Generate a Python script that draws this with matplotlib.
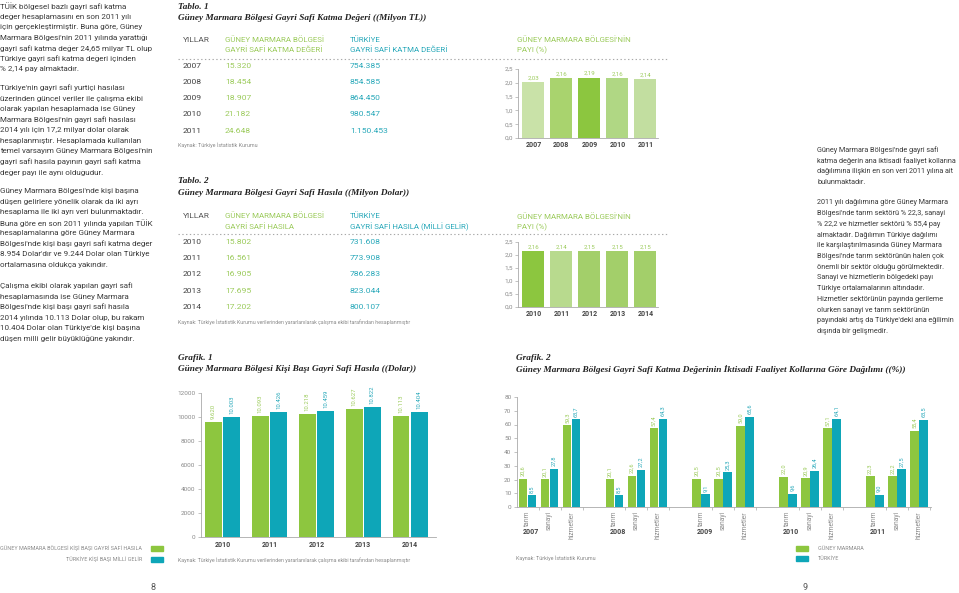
import numpy as np
import matplotlib
matplotlib.use("Agg")
import matplotlib.pyplot as plt
from matplotlib.lines import Line2D
from matplotlib.patches import Rectangle

# ---------------- data ----------------
t1_years = ["2007", "2008", "2009", "2010", "2011"]
t1_gm = ["15.320", "18.454", "18.907", "21.182", "24.648"]
t1_tr = ["754.385", "854.585", "864.450", "980.547", "1.150.453"]
t1_share = [2.03, 2.16, 2.19, 2.16, 2.14]

t2_years = ["2010", "2011", "2012", "2013", "2014"]
t2_gm = ["15.802", "16.561", "16.905", "17.695", "17.202"]
t2_tr = ["731.608", "773.908", "786.283", "823.044", "800.107"]
t2_share = [2.16, 2.14, 2.15, 2.15, 2.15]

g1_years = ["2010", "2011", "2012", "2013", "2014"]
g1_gm = [9620, 10093, 10218, 10627, 10113]
g1_tr = [10003, 10426, 10459, 10822, 10404]

g2_years = ["2007", "2008", "2009", "2010", "2011"]
g2_sectors = ["tarım", "sanayi", "hizmetler"]
g2_gm = [[20.6, 20.1, 59.3], [20.1, 22.6, 57.4], [20.5, 20.5, 59.0],
         [22.0, 20.9, 57.1], [22.3, 22.2, 55.4]]
g2_tr = [[8.5, 27.8, 63.7], [8.5, 27.2, 64.3], [9.1, 25.3, 65.6],
         [9.6, 26.4, 64.1], [9.0, 27.5, 63.5]]

# ---------------- style ----------------
W, H = 959, 593
GREEN = "#8dc63f"
GREEN_T = "#9ccb5c"
TEAL = "#0ea6b8"
TEAL_T = "#2aa9ba"
DARK = "#3a3a3a"
GRAY = "#8a8a8a"
SANS = ["Roboto", "DejaVu Sans"]
SERIF = ["Liberation Serif", "DejaVu Serif"]

plt.rcParams["font.family"] = SANS

fig = plt.figure(figsize=(W / 100, H / 100), dpi=100)
fig.patch.set_facecolor("white")


def txt(x, y, s, size=6.3, color=DARK, ha="left", va="center", **kw):
    return fig.text(x / W, 1 - y / H, s, fontsize=size, color=color, ha=ha, va=va, **kw)


def add_ax(x0, y0, x1, y1):
    return fig.add_axes([x0 / W, 1 - y1 / H, (x1 - x0) / W, (y1 - y0) / H])


def dotted(x0, x1, y):
    fig.add_artist(Line2D([x0 / W, x1 / W], [1 - y / H, 1 - y / H],
                          linestyle=(0, (1.2, 2.2)), color="#a8a8a8", lw=0.8))


def ttl(x, y, s):
    txt(x, y, s, size=6.65, color="#222", family=SERIF, weight="bold", style="italic")


# ---------------- left text column ----------------
left_paras = [
    ["TÜİK bölgesel bazlı gayri safi katma",
     "değer hesaplamasını en son 2011 yılı",
     "için gerçekleştirmiştir. Buna göre, Güney",
     "Marmara Bölgesi'nin 2011 yılında yarattığı",
     "gayri safi katma değer 24,65 milyar TL olup",
     "Türkiye gayri safi katma değeri içinden",
     "% 2,14 pay almaktadır."],
    ["Türkiye'nin gayri safi yurtiçi hasılası",
     "üzerinden güncel veriler ile çalışma ekibi",
     "olarak yapılan hesaplamada ise Güney",
     "Marmara Bölgesi'nin gayri safi hasılası",
     "2014 yılı için 17,2 milyar dolar olarak",
     "hesaplanmıştır. Hesaplamada kullanılan",
     "temel varsayım Güney Marmara Bölgesi'nin",
     "gayri safi hasıla payının gayri safi katma",
     "değer payı ile aynı olduğudur."],
    ["Güney Marmara Bölgesi'nde kişi başına",
     "düşen gelirlere yönelik olarak da iki ayrı",
     "hesaplama ile iki ayrı veri bulunmaktadır.",
     "Buna göre en son 2011 yılında yapılan TÜİK",
     "hesaplamalarına göre Güney Marmara",
     "Bölgesi'nde kişi başı gayri safi katma değer",
     "8.954 Dolar'dır ve 9.244 Dolar olan Türkiye",
     "ortalamasına oldukça yakındır."],
    ["Çalışma ekibi olarak yapılan gayri safi",
     "hesaplamasında ise Güney Marmara",
     "Bölgesi'nde kişi başı gayri safi hasıla",
     "2014 yılında 10.113 Dolar olup, bu rakam",
     "10.404 Dolar olan Türkiye'de kişi başına",
     "düşen milli gelir büyüklüğüne yakındır."],
]
starts = [6, 88, 191, 286]
for st, para in zip(starts, left_paras):
    for i, line in enumerate(para):
        txt(0, st + i * 10.55, line, size=5.8)

right_paras = [
    ["Güney Marmara Bölgesi'nde gayri safi",
     "katma değerin ana iktisadi faaliyet kollarına",
     "dağılımına ilişkin en son veri 2011 yılına ait",
     "bulunmaktadır."],
    ["2011 yılı dağılımına göre Güney Marmara",
     "Bölgesi'nde tarım sektörü % 22,3, sanayi",
     "% 22,2 ve hizmetler sektörü % 55,4 pay",
     "almaktadır. Dağılımın Türkiye dağılımı",
     "ile karşılaştırılmasında Güney Marmara",
     "Bölgesi'nde tarım sektörünün halen çok",
     "önemli bir sektör olduğu görülmektedir.",
     "Sanayi ve hizmetlerin bölgedeki payı",
     "Türkiye ortalamalarının altındadır.",
     "Hizmetler sektörünün payında gerileme",
     "olurken sanayi ve tarım sektörünün",
     "payındaki artış da Türkiye'deki ana eğilimin",
     "dışında bir gelişmedir."],
]
for st, para in zip([150, 203], right_paras):
    for i, line in enumerate(para):
        txt(817, st + i * 10.7, line, size=5.25)

# ---------------- Tablo 1 ----------------
HS = 5.7
VS = 6.1
ttl(178, 7, "Tablo. 1")
ttl(178, 18, "Güney Marmara Bölgesi Gayri Safi Katma Değeri ((Milyon TL))")
txt(183, 40, "YILLAR", size=HS + 0.3, color="#555")
txt(225, 40, "GÜNEY MARMARA BÖLGESİ", size=HS, color=GREEN_T)
txt(225, 50, "GAYRİ SAFİ KATMA DEĞERİ", size=HS, color=GREEN_T)
txt(350, 40, "TÜRKİYE", size=HS, color=TEAL_T)
txt(350, 50, "GAYRİ SAFİ KATMA DEĞERİ", size=HS, color=TEAL_T)
dotted(178, 668, 59)
for i, (y, a, b) in enumerate(zip(t1_years, t1_gm, t1_tr)):
    yy = 65.5 + i * 16.3
    txt(183, yy, y, size=VS, color="#444")
    txt(225, yy, a, size=VS, color=GREEN_T)
    txt(350, yy, b, size=VS, color=TEAL_T)
txt(178, 145, "Kaynak: Türkiye İstatistik Kurumu", size=3.9, color=GRAY)

# ---------------- Tablo 2 ----------------
ttl(178, 181, "Tablo. 2")
ttl(178, 193, "Güney Marmara Bölgesi Gayri Safi Hasıla ((Milyon Dolar))")
txt(183, 216, "YILLAR", size=HS + 0.3, color="#555")
txt(225, 216, "GÜNEY MARMARA BÖLGESİ", size=HS, color=GREEN_T)
txt(225, 227, "GAYRİ SAFİ HASILA", size=HS, color=GREEN_T)
txt(350, 216, "TÜRKİYE", size=HS, color=TEAL_T)
txt(350, 227, "GAYRİ SAFİ HASILA (MİLLİ GELİR)", size=HS, color=TEAL_T)
dotted(178, 668, 234)
for i, (y, a, b) in enumerate(zip(t2_years, t2_gm, t2_tr)):
    yy = 242 + i * 16.2
    txt(183, yy, y, size=VS, color="#444")
    txt(225, yy, a, size=VS, color=GREEN_T)
    txt(350, yy, b, size=VS, color=TEAL_T)
txt(178, 322, "Kaynak: Türkiye İstatistik Kurumu verilerinden yararlanılarak çalışma ekibi tarafından hesaplanmıştır",
    size=3.8, color=GRAY)


# ---------------- share charts ----------------
def share_chart(y_head, y_top, y_bot, years, vals, colors):
    txt(517, y_head, "GÜNEY MARMARA BÖLGESİ'NİN", size=HS, color=GREEN_T)
    txt(517, y_head + 10.5, "PAYI (%)", size=HS, color=GREEN_T)
    ax = add_ax(518, y_top, 658, y_bot)
    x = np.arange(len(years))
    ax.bar(x, vals, width=0.78, color=colors)
    for xi, v in zip(x, vals):
        ax.text(xi, v + 0.06, f"{v:.2f}".replace(".", ","), ha="center", va="bottom",
                fontsize=4.4, color=GREEN_T)
    ax.set_xlim(-0.55, 4.45)
    ax.set_ylim(0, 2.5)
    ax.set_yticks(np.arange(0, 2.51, 0.5))
    ax.set_yticklabels([f"{t:.1f}".replace(".", ",") for t in np.arange(0, 2.51, 0.5)])
    ax.set_xticks(x)
    ax.set_xticklabels(years, fontweight="bold")
    for s in ["top", "right"]:
        ax.spines[s].set_visible(False)
    for s in ["left", "bottom"]:
        ax.spines[s].set_color("#aaa")
        ax.spines[s].set_linewidth(0.6)
    ax.tick_params(axis="y", length=2, width=0.5, color="#aaa", labelsize=4.6,
                   labelcolor=GRAY, pad=1.5)
    ax.tick_params(axis="x", length=0, labelsize=5.0, labelcolor="#444", pad=2)
    ax.set_facecolor("none")
    return ax


share_chart(40, 69, 138, t1_years, t1_share,
            ["#c9e2a8", "#a9d36e", "#8cc63f", "#b0d784", "#c2dea0"])
share_chart(217, 242, 307, t2_years, t2_share,
            ["#8cc63f", "#b8da8e", "#a3cf6a", "#a3cf6a", "#a3cf6a"])

# ---------------- Grafik 1 ----------------
ttl(178, 358, "Grafik. 1")
ttl(178, 369, "Güney Marmara Bölgesi Kişi Başı Gayri Safi Hasıla ((Dolar))")
ax1 = add_ax(201, 393, 436, 537)
x = np.arange(len(g1_years))
bw = 0.36
off = 0.195
ax1.bar(x - off, g1_gm, width=bw, color=GREEN)
ax1.bar(x + off, g1_tr, width=bw, color=TEAL)
fmt = lambda v: f"{v:,}".replace(",", ".")
for xi, a, b in zip(x, g1_gm, g1_tr):
    ax1.text(xi - off, a + 250, fmt(a), rotation=90, ha="center", va="bottom",
             fontsize=4.3, color=GREEN_T)
    ax1.text(xi + off, b + 250, fmt(b), rotation=90, ha="center", va="bottom",
             fontsize=4.3, color=TEAL_T)
ax1.set_xlim(-0.46, 4.55)
ax1.set_ylim(0, 12000)
ax1.set_yticks(np.arange(0, 12001, 2000))
ax1.set_xticks(x)
ax1.set_xticklabels(g1_years, fontweight="bold")
for s in ["top", "right"]:
    ax1.spines[s].set_visible(False)
for s in ["left", "bottom"]:
    ax1.spines[s].set_color("#aaa")
    ax1.spines[s].set_linewidth(0.6)
ax1.tick_params(axis="y", length=2, width=0.5, color="#aaa", labelsize=4.6,
                labelcolor=GRAY, pad=2)
ax1.tick_params(axis="x", length=0, labelsize=5.0, labelcolor="#444", pad=3)
ax1.set_facecolor("none")
txt(178, 560, "Kaynak: Türkiye İstatistik Kurumu verilerinden yararlanılarak çalışma ekibi tarafından hesaplanmıştır",
    size=3.8, color=GRAY)

txt(142, 548, "GÜNEY MARMARA BÖLGESİ KİŞİ BAŞI GAYRİ SAFİ HASILA", size=3.9, color=GRAY, ha="right")
txt(142, 559, "TÜRKİYE KİŞİ BAŞI MİLLİ GELİR", size=3.9, color=GRAY, ha="right")
fig.add_artist(Rectangle((151 / W, 1 - 551 / H), 12 / W, 5 / H, color=GREEN, transform=fig.transFigure))
fig.add_artist(Rectangle((151 / W, 1 - 562 / H), 12 / W, 5 / H, color=TEAL, transform=fig.transFigure))

# ---------------- Grafik 2 ----------------
ttl(516, 358, "Grafik. 2")
ttl(516, 369, "Güney Marmara Bölgesi Gayri Safi Katma Değerinin İktisadi Faaliyet Kollarına Göre Dağılımı ((%))")
ax2 = add_ax(517, 397, 931, 507)
ystep = 3.94
bw2 = 0.39
off2 = 0.205
cat_pos = []
for i, yr in enumerate(g2_years):
    for j, sec in enumerate(g2_sectors):
        p = i * ystep + j
        cat_pos.append(p)
        a = g2_gm[i][j]
        b = g2_tr[i][j]
        ax2.bar(p - off2, a, width=bw2, color=GREEN)
        ax2.bar(p + off2, b, width=bw2, color=TEAL)
        ax2.text(p - off2, a + 1.8, f"{a:.1f}".replace(".", ","), rotation=90,
                 ha="center", va="bottom", fontsize=4.1, color=GREEN_T)
        ax2.text(p + off2, b + 1.8, f"{b:.1f}".replace(".", ","), rotation=90,
                 ha="center", va="bottom", fontsize=4.1, color=TEAL_T)
ax2.set_xlim(-0.48, 4 * ystep + 2 + 0.55)
ax2.set_ylim(0, 80)
ax2.set_yticks(np.arange(0, 81, 10))
ax2.set_xticks(cat_pos)
ax2.set_xticklabels(g2_sectors * len(g2_years), rotation=90, va="top")
ax2.set_xticks([p + 0.5 for p in cat_pos], minor=True)
for s in ["top", "right"]:
    ax2.spines[s].set_visible(False)
for s in ["left", "bottom"]:
    ax2.spines[s].set_color("#aaa")
    ax2.spines[s].set_linewidth(0.6)
ax2.tick_params(axis="y", length=2, width=0.5, color="#aaa", labelsize=4.6,
                labelcolor=GRAY, pad=2)
ax2.tick_params(axis="x", which="major", length=0, labelsize=4.8, labelcolor=GRAY, pad=3)
ax2.tick_params(axis="x", which="minor", length=2, width=0.5, color="#aaa")
ax2.set_facecolor("none")
for i, yr in enumerate(g2_years):
    p = i * ystep + 0.15
    ax2.text(p, -0.23, yr, transform=ax2.get_xaxis_transform(), ha="center", va="center",
             fontsize=5.0, fontweight="bold", color="#444")
txt(516, 558, "Kaynak: Türkiye İstatistik Kurumu", size=3.9, color=GRAY)
fig.add_artist(Rectangle((796 / W, 1 - 551 / H), 12 / W, 5 / H, color=GREEN, transform=fig.transFigure))
fig.add_artist(Rectangle((796 / W, 1 - 561 / H), 12 / W, 5 / H, color=TEAL, transform=fig.transFigure))
txt(818, 548, "GÜNEY MARMARA", size=3.9, color=GRAY)
txt(818, 558, "TÜRKİYE", size=3.9, color=GRAY)

# page numbers
txt(153, 588, "8", size=6.5, color="#555", ha="center")
txt(805, 588, "9", size=6.5, color="#555", ha="center")

fig.savefig("out.png", dpi=100, facecolor="white")
